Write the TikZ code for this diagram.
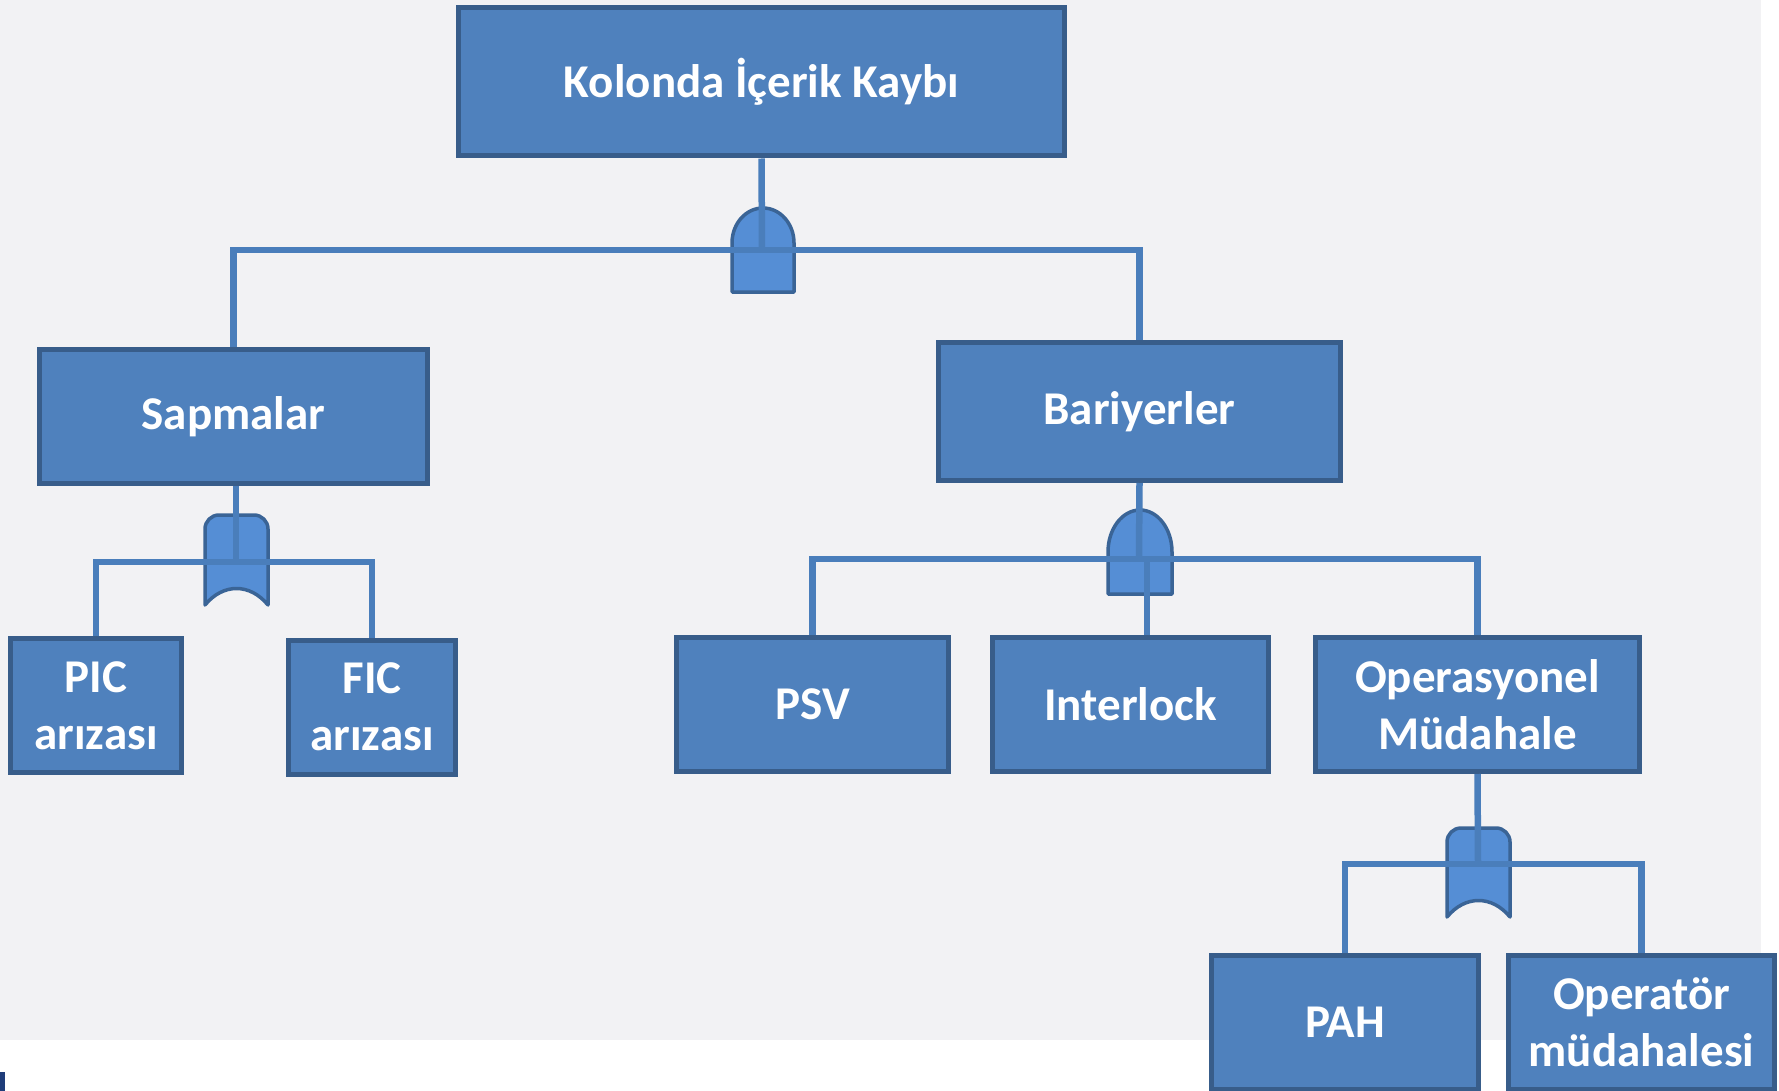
\documentclass[tikz,border=0pt]{standalone}
\usepackage{fontspec}
\setmainfont{Carlito}
\usepackage{xcolor}
\usepackage{tikz}
\definecolor{boxblue}{HTML}{4F81BD}
\definecolor{boxedge}{HTML}{385D8A}
\definecolor{wireblue}{HTML}{4A7EBB}
\definecolor{gatefill}{HTML}{558ED5}
\definecolor{gateedge}{HTML}{3A6496}
\definecolor{slidebg}{HTML}{F2F2F4}
\definecolor{cornerblue}{HTML}{1F3D7A}
\tikzset{
  event/.style={draw=boxedge, fill=boxblue, line width=5pt, text=white,
    font=\fontsize{47}{57}\selectfont\bfseries, align=center,
    inner sep=0pt, minimum height=134pt},
  wire/.style={draw=wireblue, line width=6.5pt},
  gate/.style={draw=gateedge, fill=gatefill, line width=3.5pt, line join=round}
}
\begin{document}
\begin{tikzpicture}[x=1pt,y=-1pt]
\clip (0,0) rectangle (1779,1091);
\fill[white] (0,0) rectangle (1779,1091);
\fill[slidebg] (0,0) rectangle (1761,1040);
\fill[cornerblue] (0,1072) rectangle (5,1091);
%%the events
\path (761.5,82) node[event, minimum width=606pt, minimum height=148pt] (top) {Kolonda İçerik Kaybı}
(233.5,416.5) node[event, minimum width=388pt] (sap) {Sapmalar}
(1139.5,411.5) node[event, minimum width=402pt, minimum height=138pt] (bar) {Bariyerler}
(96,705.5) node[event, minimum width=171pt] (pic) {PIC\\arızası}
(372,707) node[event, minimum width=167pt] (fic) {FIC\\arızası}
(812.5,704.5) node[event, minimum width=272pt] (psv) {PSV}
(1130.5,704.5) node[event, minimum width=276pt] (ilk) {Interlock}
(1477.5,704.5) node[event, minimum width=324pt] (opm) {Operasyonel\\Müdahale}
(1345,1022.5) node[event, minimum width=267pt] (pah) {PAH}
(1641.5,1022.5) node[event, minimum width=266pt] (opr) {Operatör\\müdahalesi};
%%now the gates (and)
\draw[gate] (732,292) -- (732,243) arc[start angle=180, end angle=0, x radius=31pt, y radius=35pt] -- (794,292) -- cycle;
\draw[gate] (1108,594) -- (1108,552) arc[start angle=180, end angle=0, x radius=32pt, y radius=42pt] -- (1172,594) -- cycle;
%%now the gates (or)
\draw[gate] (205,605) -- (205,529) arc[start angle=180, end angle=90, radius=14pt] -- (254,515)
  arc[start angle=90, end angle=0, radius=14pt] -- (268,605) .. controls (250,583) and (223,583) .. cycle;
\draw[gate] (1447,917) -- (1447,842) arc[start angle=180, end angle=90, radius=14pt] -- (1496,828)
  arc[start angle=90, end angle=0, radius=14pt] -- (1510,917) .. controls (1492,895) and (1465,895) .. cycle;
%%finally the connectors
\path (762,250) coordinate (g1)
(236,562) coordinate (g2)
(1139,559) coordinate (g3)
(1147,559) coordinate (g3d)
(1478,864) coordinate (g4);
\draw[wire] (top.south) -- (g1);
\draw[wire] (sap.north) |- (g1) -| (bar.north);
\draw[wire] (sap.south -| g2) -- (g2);
\draw[wire] (pic.north) |- (g2) -| (fic.north);
\draw[wire] (bar.south) -- (g3);
\draw[wire] (psv.north) |- (g3) -| (opm.north);
\draw[wire] (g3d) -- (g3d |- ilk.north);
\draw[wire] (opm.south) -- (g4);
\draw[wire] (pah.north) |- (g4) -| (opr.north);
\end{tikzpicture}
\end{document}
